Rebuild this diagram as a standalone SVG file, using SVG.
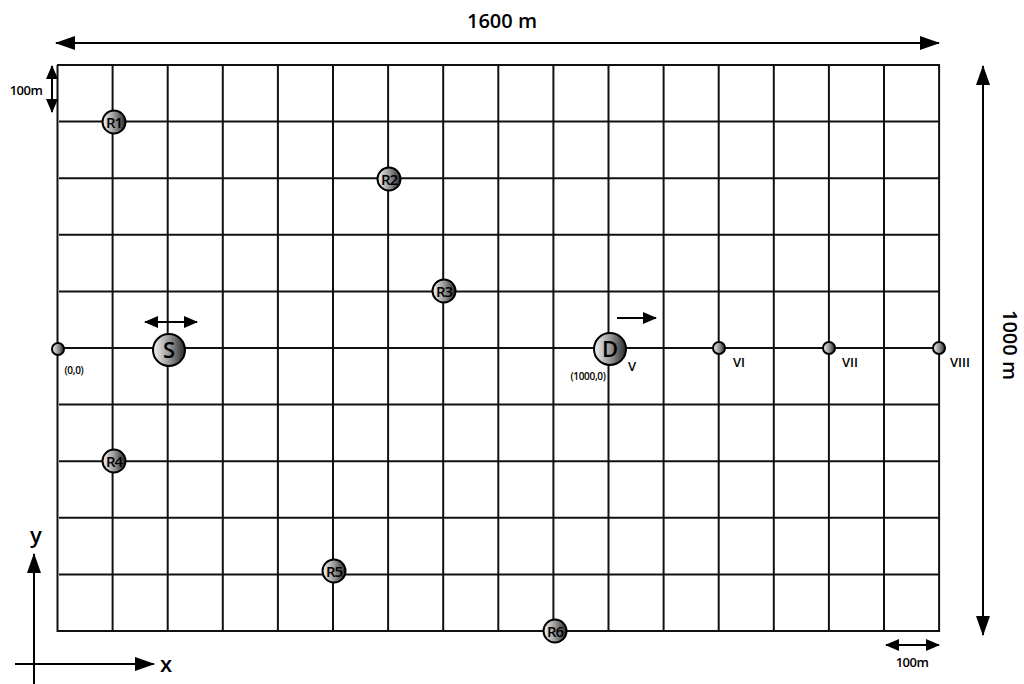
<svg xmlns="http://www.w3.org/2000/svg" width="1024" height="684" viewBox="0 0 1024 684">
<defs>
<linearGradient id="g" x1="0" y1="0" x2="1" y2="0">
<stop offset="0" stop-color="#f2f2f2"/>
<stop offset="0.5" stop-color="#9a9a9a"/>
<stop offset="1" stop-color="#2a2a2a"/>
</linearGradient>
<marker id="ahb" viewBox="0 0 14 12" refX="13" refY="6" markerWidth="14" markerHeight="12" orient="auto-start-reverse" markerUnits="userSpaceOnUse">
<path d="M0,0 L14,6 L0,12 z" fill="#000"/>
</marker>
<marker id="ahl" viewBox="0 0 20 14" refX="19" refY="7" markerWidth="20" markerHeight="14" orient="auto-start-reverse" markerUnits="userSpaceOnUse">
<path d="M0,0 L20,7 L0,14 z" fill="#000"/>
</marker>
</defs>
<style>
.grid line{stroke:#111;stroke-width:2}
.arr{stroke:#000;stroke-width:2;fill:none}
.node circle{fill:url(#g);stroke:#000;stroke-width:2}
.nt{font-family:"Open Sans","Liberation Sans",sans-serif;font-weight:600;fill:#000;text-anchor:middle;letter-spacing:-1px}
.lbl{font-family:"Open Sans","Liberation Sans",sans-serif;font-weight:600;fill:#000;text-anchor:middle}
.big{font-family:"Open Sans","Liberation Sans",sans-serif;font-weight:600;fill:#000;text-anchor:middle}
</style>
<g id="grid" class="grid">
<line x1="57.5" y1="65" x2="57.5" y2="632"/>
<line x1="112.6" y1="65" x2="112.6" y2="632"/>
<line x1="167.7" y1="65" x2="167.7" y2="632"/>
<line x1="222.8" y1="65" x2="222.8" y2="632"/>
<line x1="277.9" y1="65" x2="277.9" y2="632"/>
<line x1="333" y1="65" x2="333" y2="632"/>
<line x1="388.1" y1="65" x2="388.1" y2="632"/>
<line x1="443.2" y1="65" x2="443.2" y2="632"/>
<line x1="498.3" y1="65" x2="498.3" y2="632"/>
<line x1="553.4" y1="65" x2="553.4" y2="632"/>
<line x1="608.5" y1="65" x2="608.5" y2="632"/>
<line x1="663.6" y1="65" x2="663.6" y2="632"/>
<line x1="718.7" y1="65" x2="718.7" y2="632"/>
<line x1="773.8" y1="65" x2="773.8" y2="632"/>
<line x1="828.9" y1="65" x2="828.9" y2="632"/>
<line x1="884" y1="65" x2="884" y2="632"/>
<line x1="939.1" y1="65" x2="939.1" y2="632"/>
<line x1="57" y1="65" x2="940" y2="65"/>
<line x1="59" y1="121.6" x2="940" y2="121.6"/>
<line x1="59" y1="178.2" x2="940" y2="178.2"/>
<line x1="59" y1="234.8" x2="940" y2="234.8"/>
<line x1="59" y1="291.4" x2="940" y2="291.4"/>
<line x1="59" y1="348" x2="940" y2="348"/>
<line x1="59" y1="404.6" x2="940" y2="404.6"/>
<line x1="59" y1="461.2" x2="940" y2="461.2"/>
<line x1="59" y1="517.8" x2="940" y2="517.8"/>
<line x1="59" y1="574.4" x2="940" y2="574.4"/>
<line x1="57" y1="631" x2="940" y2="631"/>
</g>
<g id="connectors">
<line class="arr" x1="56" y1="43" x2="939" y2="43" marker-start="url(#ahl)" marker-end="url(#ahl)"/>
<line class="arr" x1="983" y1="66" x2="983" y2="635" marker-start="url(#ahl)" marker-end="url(#ahl)"/>
<line class="arr" x1="52" y1="66" x2="52" y2="112" marker-start="url(#ahb)" marker-end="url(#ahb)"/>
<line class="arr" x1="886" y1="645" x2="939" y2="645" marker-start="url(#ahb)" marker-end="url(#ahb)"/>
<line class="arr" x1="145" y1="322" x2="197" y2="322" marker-start="url(#ahb)" marker-end="url(#ahb)"/>
<line class="arr" x1="617" y1="318" x2="656" y2="318" marker-end="url(#ahb)"/>
<line class="arr" x1="34" y1="684" x2="34" y2="554" marker-end="url(#ahl)"/>
<line class="arr" x1="15" y1="664" x2="154" y2="664" marker-end="url(#ahl)"/>
</g>
<g id="labels">
<text class="big" x="502" y="28" font-size="20">1600 m</text>
<text class="big" x="1003" y="345" font-size="20" transform="rotate(90 1003 345)">1000 m</text>
<text class="big" x="26" y="95" font-size="13" letter-spacing="-0.5">100m</text>
<text class="big" x="912" y="667" font-size="13" letter-spacing="-0.5">100m</text>
<text class="big" x="36" y="543" font-size="22">y</text>
<text class="big" x="166" y="672" font-size="22">x</text>
<text class="lbl" x="74" y="374" font-size="10" letter-spacing="-0.3">(0,0)</text>
<text class="lbl" x="588" y="380" font-size="10" letter-spacing="-0.3">(1000,0)</text>
<text class="lbl" x="632" y="371" font-size="13">V</text>
<text class="lbl" x="739" y="367" font-size="13">VI</text>
<text class="lbl" x="850" y="367" font-size="13">VII</text>
<text class="lbl" x="960" y="367" font-size="13">VIII</text>
</g>
<g id="origin" class="node"><circle cx="58" cy="349" r="6"/></g>
<g id="VI" class="node"><circle cx="719" cy="348" r="6"/></g>
<g id="VII" class="node"><circle cx="829" cy="348" r="6"/></g>
<g id="VIII" class="node"><circle cx="939" cy="348" r="6"/></g>
<g id="R1" class="node"><circle cx="114" cy="122" r="11.5"/><text class="nt" x="114" y="127.5" font-size="15">R1</text></g>
<g id="R2" class="node"><circle cx="389" cy="179" r="11.5"/><text class="nt" x="389" y="184.5" font-size="15">R2</text></g>
<g id="R3" class="node"><circle cx="444" cy="291" r="11.5"/><text class="nt" x="444" y="296.5" font-size="15">R3</text></g>
<g id="R4" class="node"><circle cx="114" cy="461" r="11.5"/><text class="nt" x="114" y="466.5" font-size="15">R4</text></g>
<g id="R5" class="node"><circle cx="334" cy="571" r="11.5"/><text class="nt" x="334" y="576.5" font-size="15">R5</text></g>
<g id="R6" class="node"><circle cx="555" cy="631" r="11.5"/><text class="nt" x="555" y="636.5" font-size="15">R6</text></g>
<g id="S" class="node"><circle cx="169" cy="350" r="16"/><text class="big" x="169" y="358" font-size="22">S</text></g>
<g id="D" class="node"><circle cx="610" cy="349" r="16"/><text class="big" x="610" y="357" font-size="22">D</text></g>
</svg>
